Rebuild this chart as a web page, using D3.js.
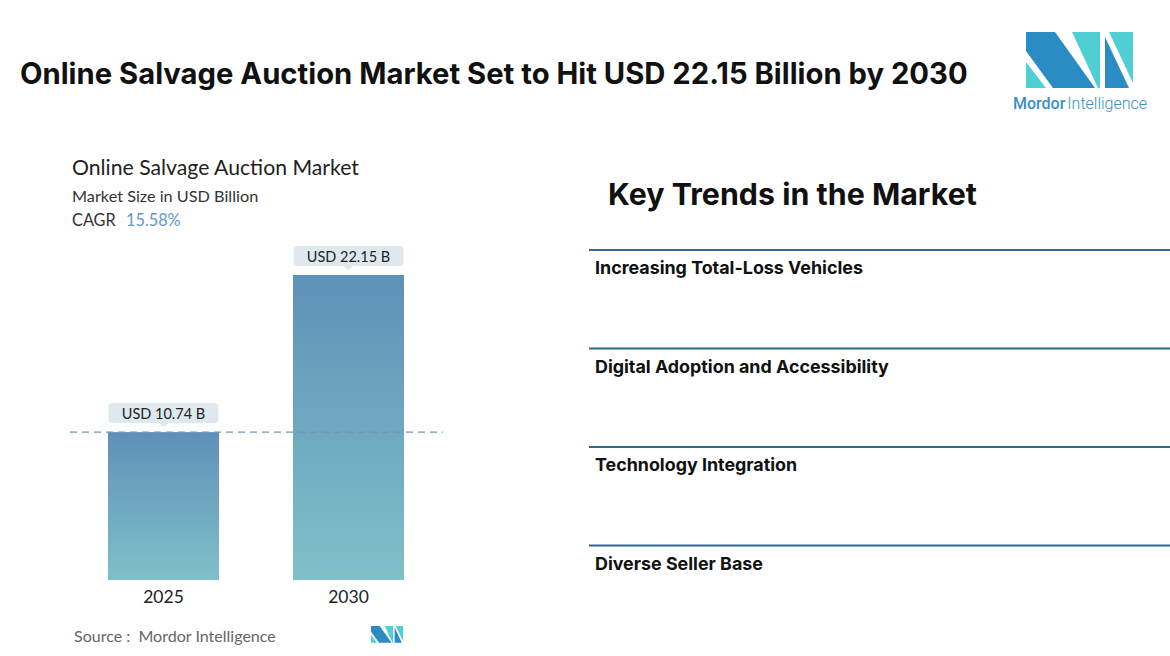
<!DOCTYPE html>
<html><head><meta charset="utf-8">
<script src="https://cdn.jsdelivr.net/npm/d3@7"></script>
<style>
html,body{margin:0;padding:0;background:#fff;}
svg{display:block;}
</style></head>
<body>
<svg id="c" width="1170" height="656"></svg>
<script>
const title = "Online Salvage Auction Market Set to Hit USD 22.15 Billion by 2030";
const chartTitle = "Online Salvage Auction Market";
const chartSubtitle = "Market Size in USD Billion";
const cagrLabel = "CAGR";
const cagrValue = "15.58%";
const years = ["2025", "2030"];
const values = [10.74, 22.15];
const valueLabels = ["USD 10.74 B", "USD 22.15 B"];
const trendsTitle = "Key Trends in the Market";
const trends = ["Increasing Total-Loss Vehicles", "Digital Adoption and Accessibility", "Technology Integration", "Diverse Seller Base"];
const sourceText = "Source :  Mordor Intelligence";

const svg = d3.select("#c");
const defs = svg.append("defs");
const grad = defs.append("linearGradient").attr("id","barGrad").attr("x1",0).attr("y1",0).attr("x2",0).attr("y2",1);
grad.append("stop").attr("offset","0%").attr("stop-color","#5f91b8");
grad.append("stop").attr("offset","100%").attr("stop-color","#7fc0c9");

function fitText(sel, target){
  const w = sel.node().getComputedTextLength();
  const fs = parseFloat(sel.attr("font-size"));
  sel.attr("font-size", (fs*target/w).toFixed(2));
  return fs*target/w;
}

// Main title
const t = svg.append("text").attr("x",20).attr("y",84)
  .attr("font-family","Inter, Roboto, sans-serif").attr("font-weight",700)
  .attr("font-size",28).attr("fill","#111").text(title);
fitText(t, 948);

// Logo
function logo(g, x, y, s){
  const gg = g.append("g").attr("transform",`translate(${x},${y}) scale(${s})`);
  const dark = "#2b8cc4", teal = "#4fcfd3";
  const polys = [
    {c:teal, p:[[0,30],[0,56],[20,56]]},
    {c:dark, p:[[0,0],[29,0],[69,56],[27,56],[0,19]]},
    {c:teal, p:[[46,0],[74,0],[74,56],[72,56]]},
    {c:dark, p:[[79,5],[79,56],[103,56]]},
    {c:teal, p:[[83,0],[107,0],[107,51]]}
  ];
  polys.forEach(d=>gg.append("polygon").attr("points",d.p.map(q=>q.join(",")).join(" ")).attr("fill",d.c));
}
logo(svg, 1026, 32, 1);
const mi = svg.append("text").attr("x",1013).attr("y",109).attr("font-family","Roboto, sans-serif")
  .attr("font-size",16).attr("fill","#3a8fc4");
mi.append("tspan").attr("font-weight",500).text("Mordor");
mi.append("tspan").attr("font-weight",300).attr("dx",2).text("Intelligence");

// Chart panel texts
const lf = "Lato, 'Noto Sans', sans-serif";
const ct = svg.append("text").attr("x",72).attr("y",175).attr("font-family",lf).attr("font-size",21).attr("fill","#222").text(chartTitle);
fitText(ct, 287);
const cs = svg.append("text").attr("x",72).attr("y",202).attr("font-family",lf).attr("font-size",16.3).attr("fill","#333").text(chartSubtitle);
fitText(cs, 186);
const cg = svg.append("text").attr("x",72).attr("y",226).attr("font-family",lf).attr("font-size",16.3);
cg.append("tspan").attr("fill","#333").text(cagrLabel);
cg.append("tspan").attr("fill","#5f9bc6").attr("x",126).text(cagrValue);

// Scales
const x = d3.scaleBand().domain(years).range([108, 404]).paddingInner(0.4).paddingOuter(0);
const y = d3.scaleLinear().domain([0, 22.15]).range([580, 275]);

// bars
svg.selectAll("rect.bar").data(values).join("rect").attr("class","bar")
  .attr("x",(d,i)=>x(years[i])).attr("width",x.bandwidth())
  .attr("y",d=>y(d)).attr("height",d=>y(0)-y(d)).attr("fill","url(#barGrad)");

// dashed line at first value
svg.append("line").attr("x1",70).attr("x2",443).attr("y1",y(values[0])).attr("y2",y(values[0]))
  .attr("stroke","#6b97bb").attr("stroke-width",1.2).attr("stroke-dasharray","7,5");

// value labels
values.forEach((v,i)=>{
  const cx = x(years[i]) + x.bandwidth()/2;
  const top = y(v);
  const bw = 110, bh = 20;
  const g = svg.append("g");
  g.append("rect").attr("x",cx-bw/2).attr("y",top-29).attr("width",bw).attr("height",bh).attr("rx",4).attr("fill","#dfe9ed");
  g.append("polygon").attr("points",`${cx-5},${top-9} ${cx+5},${top-9} ${cx},${top-5}`).attr("fill","#dfe9ed");
  g.append("text").attr("x",cx).attr("y",top-13.5).attr("text-anchor","middle").attr("font-family",lf)
    .attr("font-size",14.5).attr("fill","#222").text(valueLabels[i]);
});

// x axis labels
const xa = svg.append("g").attr("transform","translate(0,580)")
  .call(d3.axisBottom(x).tickSize(0).tickPadding(8));
xa.select(".domain").remove();
xa.selectAll("text").attr("font-family",lf).attr("font-size",17.5).attr("fill","#222").attr("dy","0.71em").attr("y",11);

// source
const st = svg.append("text").attr("x",74).attr("y",642).attr("font-family",lf).attr("font-size",15.5)
  .attr("fill","#666").style("white-space","pre").text(sourceText);
fitText(st, 202);
logo(svg, 371, 626, 32/107);

// Right panel
const kt = svg.append("text").attr("x",608).attr("y",205).attr("font-family","Inter, Roboto, sans-serif")
  .attr("font-weight",700).attr("font-size",29).attr("fill","#111").text(trendsTitle);
fitText(kt, 369);

const ty = d3.scaleBand().domain(trends).range([250, 644]).paddingInner(0).paddingOuter(0);
let tfs = null;
trends.forEach((tr,i)=>{
  const yy = ty(tr);
  svg.append("line").attr("x1",589).attr("x2",1170).attr("y1",yy).attr("y2",yy).attr("stroke","#2e6a8f").attr("stroke-width",2);
  const tt = svg.append("text").attr("x",595).attr("y",yy+24).attr("font-family","Inter, Roboto, sans-serif")
    .attr("font-weight",700).attr("font-size",tfs || 17).attr("fill","#111").text(tr);
  if(i===0) tfs = fitText(tt, 268);
});
</script>
</body></html>
